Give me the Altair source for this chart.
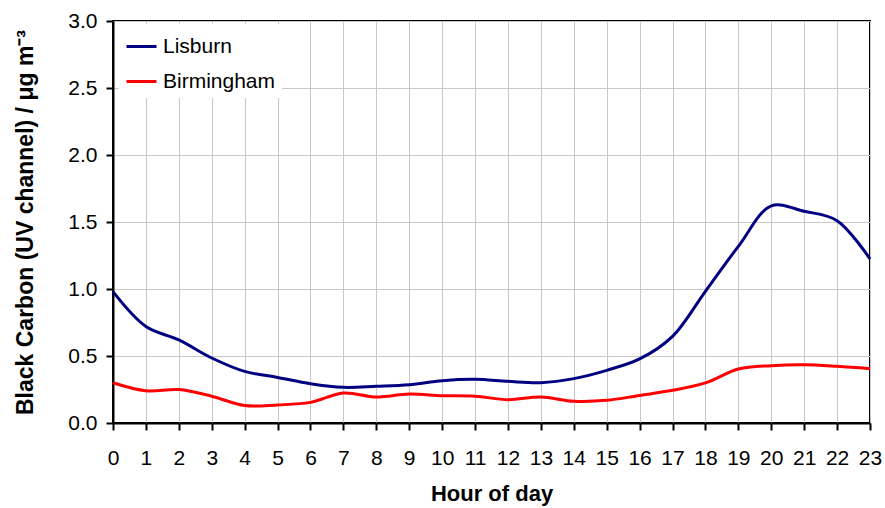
import altair as alt
import pandas as pd

hours = list(range(24))
lisburn = [0.98, 0.72, 0.62, 0.485, 0.385, 0.34, 0.293, 0.266, 0.274, 0.286,
           0.316, 0.326, 0.311, 0.301, 0.331, 0.393, 0.478, 0.647, 0.983, 1.318,
           1.62, 1.58, 1.51, 1.224]
birmingham = [0.30, 0.24, 0.25, 0.20, 0.13, 0.135, 0.154, 0.224, 0.194, 0.216,
              0.204, 0.20, 0.174, 0.194, 0.162, 0.169, 0.206, 0.244, 0.299, 0.403,
              0.428, 0.435, 0.423, 0.405]
sites = ["Lisburn", "Birmingham"]
colors = ["#000080", "#ff0000"]

df = pd.concat([
    pd.DataFrame({"hour": hours, "bc": lisburn, "site": "Lisburn"}),
    pd.DataFrame({"hour": hours, "bc": birmingham, "site": "Birmingham"}),
])

font = "Liberation Sans"

chart = alt.Chart(df).mark_line(
    interpolate="catmull-rom", strokeWidth=3
).encode(
    x=alt.X("hour:Q", scale=alt.Scale(domain=[0, 23], nice=False),
            axis=alt.Axis(title="Hour of day", values=hours, format="d",
                          tickCount=24)),
    y=alt.Y("bc:Q", scale=alt.Scale(domain=[0, 3], nice=False),
            axis=alt.Axis(title="Black Carbon (UV channel) / μg m⁻³",
                          values=[0, 0.5, 1, 1.5, 2, 2.5, 3], format=".1f")),
    color=alt.Color("site:N", scale=alt.Scale(domain=sites, range=colors),
                    sort=sites,
                    legend=alt.Legend(title=None, orient="none",
                                      legendX=6, legendY=3,
                                      fillColor="white", padding=6,
                                      symbolType="stroke", symbolSize=900,
                                      symbolStrokeWidth=3, labelFontSize=21,
                                      labelFont=font, labelColor="black",
                                      rowPadding=8, labelOffset=5)),
).properties(
    width=757, height=402,
    autosize=alt.AutoSizeParams(type="none"),
    padding={"left": 113, "top": 21, "right": 15, "bottom": 85},
).configure_view(
    stroke="black", strokeWidth=2
).configure_axis(
    grid=True, gridColor="#c8c8c8", gridWidth=1,
    domainColor="black", domainWidth=2,
    tickColor="black", tickWidth=2, tickSize=7,
    labelFont=font, labelFontSize=21, labelColor="black",
    titleFont=font, titleFontWeight="bold", titleColor="black",
).configure_axisX(
    labelPadding=17, titlePadding=15, labelFlush=False, titleFontSize=22
).configure_axisY(
    labelPadding=9, titlePadding=30, titleFontSize=23
)

chart.save("out.html", embed_options={"renderer": "svg", "actions": False})
